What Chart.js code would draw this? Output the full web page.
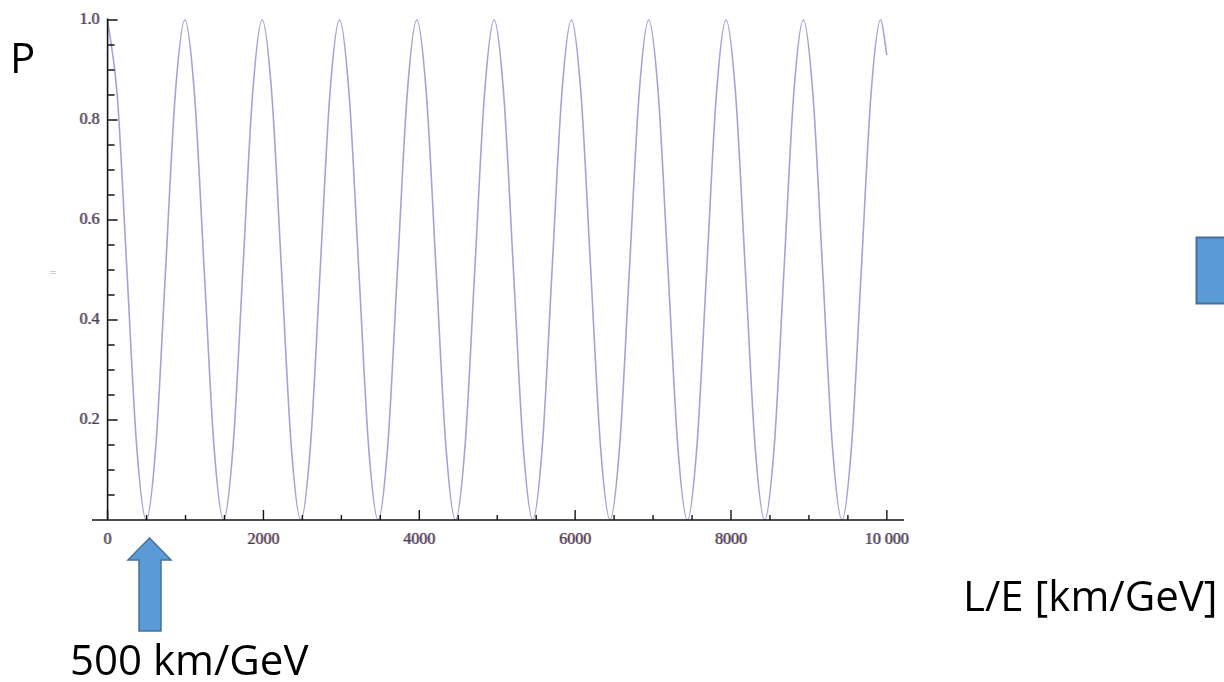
<!DOCTYPE html>
<html>
<head>
<meta charset="utf-8">
<script src="https://cdn.jsdelivr.net/npm/chart.js@4.4.0/dist/chart.umd.min.js"></script>
<style>
html, body { margin: 0; padding: 0; background: #fff; }
#wrap { width: 1224px; height: 682px; position: relative; }
</style>
</head>
<body>
<div id="wrap"><canvas id="chart" width="1224" height="682"></canvas></div>
<script>
// L/E [km/GeV] sample points
var lOverE = [
  0, 124, 248, 372, 496, 620, 744, 868,
  992, 1116, 1240, 1364, 1488, 1612, 1736, 1860,
  1984, 2108, 2232, 2356, 2480, 2604, 2728, 2852,
  2976, 3100, 3224, 3348, 3472, 3596, 3720, 3844,
  3968, 4092, 4216, 4340, 4464, 4588, 4712, 4836,
  4960, 5084, 5208, 5332, 5456, 5580, 5704, 5828,
  5952, 6076, 6200, 6324, 6448, 6572, 6696, 6820,
  6944, 7068, 7192, 7316, 7440, 7564, 7688, 7812,
  7936, 8060, 8184, 8308, 8432, 8556, 8680, 8804,
  8928, 9052, 9176, 9300, 9424, 9548, 9672, 9796,
  9920, 10000
];
// survival probability P
var prob = [
  1, 0.85, 0.5, 0.15, 0, 0.15, 0.5, 0.85,
  1, 0.85, 0.5, 0.15, 0, 0.15, 0.5, 0.85,
  1, 0.85, 0.5, 0.15, 0, 0.15, 0.5, 0.85,
  1, 0.85, 0.5, 0.15, 0, 0.15, 0.5, 0.85,
  1, 0.85, 0.5, 0.15, 0, 0.15, 0.5, 0.85,
  1, 0.85, 0.5, 0.15, 0, 0.15, 0.5, 0.85,
  1, 0.85, 0.5, 0.15, 0, 0.15, 0.5, 0.85,
  1, 0.85, 0.5, 0.15, 0, 0.15, 0.5, 0.85,
  1, 0.85, 0.5, 0.15, 0, 0.15, 0.5, 0.85,
  1, 0.85, 0.5, 0.15, 0, 0.15, 0.5, 0.85,
  1, 0.93
];

var xTicks = [0, 2000, 4000, 6000, 8000, 10000];
var xTickLabels = ['0', '2000', '4000', '6000', '8000', '10 000'];
var xMinor = [500, 1000, 1500, 2500, 3000, 3500, 4500, 5000, 5500, 6500, 7000, 7500, 8500, 9000, 9500];
var yTicks = [0.2, 0.4, 0.6, 0.8, 1.0];
var yTickLabels = ['0.2', '0.4', '0.6', '0.8', '1.0'];
var yMinor = [0.05, 0.1, 0.15, 0.25, 0.3, 0.35, 0.45, 0.5, 0.55, 0.65, 0.7, 0.75, 0.85, 0.9, 0.95];

var points = lOverE.map(function (x, i) { return { x: x, y: prob[i] }; });

// tick labels with a little colour fringe, like the old plot export
function fringeText(ctx, s, x, y) {
  ctx.fillStyle = 'rgba(235,150,50,0.6)';
  ctx.fillText(s, x - 0.9, y);
  ctx.fillStyle = 'rgba(60,90,210,0.6)';
  ctx.fillText(s, x + 0.9, y);
  ctx.fillStyle = 'rgba(60,50,75,0.85)';
  ctx.fillText(s, x, y);
}

var axesPlugin = {
  id: 'axes',
  afterDatasetsDraw: function (chart) {
    var ctx = chart.ctx;
    var xs = chart.scales.x, ys = chart.scales.y;
    var area = chart.chartArea;
    var x0 = xs.getPixelForValue(0);
    var y0 = ys.getPixelForValue(0);
    ctx.save();
    ctx.strokeStyle = '#151515';
    ctx.lineWidth = 1.6;
    ctx.beginPath();
    ctx.moveTo(area.left, y0);
    ctx.lineTo(area.right, y0);
    ctx.moveTo(x0, y0);
    ctx.lineTo(x0, ys.getPixelForValue(1.0) - 1.5);
    ctx.stroke();

    ctx.lineWidth = 1.4;
    ctx.beginPath();
    xTicks.forEach(function (v) {
      var px = xs.getPixelForValue(v);
      ctx.moveTo(px, y0); ctx.lineTo(px, y0 - 10);
    });
    xMinor.forEach(function (v) {
      var px = xs.getPixelForValue(v);
      ctx.moveTo(px, y0); ctx.lineTo(px, y0 - 5);
    });
    yTicks.forEach(function (v) {
      var py = ys.getPixelForValue(v);
      ctx.moveTo(x0, py); ctx.lineTo(x0 + 10, py);
    });
    yMinor.forEach(function (v) {
      var py = ys.getPixelForValue(v);
      ctx.moveTo(x0, py); ctx.lineTo(x0 + 7, py);
    });
    ctx.stroke();

    ctx.font = '16px "Liberation Serif"';
    ctx.textAlign = 'center';
    ctx.textBaseline = 'middle';
    xTicks.forEach(function (v, i) {
      fringeText(ctx, xTickLabels[i], xs.getPixelForValue(v), y0 + 20);
    });
    ctx.textAlign = 'right';
    yTicks.forEach(function (v, i) {
      fringeText(ctx, yTickLabels[i], x0 - 8, ys.getPixelForValue(v));
    });

    // faint leftover mark beside the y axis
    ctx.font = '9px "DejaVu Sans"';
    ctx.textAlign = 'center';
    ctx.fillStyle = '#a0a0a0';
    ctx.fillText('=', 53, 273);
    ctx.restore();
  },
  afterDraw: function (chart) {
    var ctx = chart.ctx;
    ctx.save();
    ctx.fillStyle = '#000';
    ctx.font = '42px "Open Sans"';
    ctx.textBaseline = 'alphabetic';
    ctx.textAlign = 'left';
    ctx.fillText('P', 10, 73);
    ctx.fillText('500 km/GeV', 70, 675);
    ctx.fillText('L/E [km/GeV]', 963, 611);

    // arrow pointing at 500 km/GeV
    ctx.fillStyle = '#5b9bd5';
    ctx.strokeStyle = '#41719c';
    ctx.lineWidth = 1.5;
    ctx.beginPath();
    ctx.moveTo(149.5, 538);
    ctx.lineTo(171, 560);
    ctx.lineTo(161, 560);
    ctx.lineTo(161, 631);
    ctx.lineTo(139, 631);
    ctx.lineTo(139, 560);
    ctx.lineTo(128, 560);
    ctx.closePath();
    ctx.fill();
    ctx.stroke();

    // box cut off at the right edge
    ctx.beginPath();
    ctx.rect(1196.5, 237.5, 40, 66);
    ctx.fill();
    ctx.lineWidth = 2;
    ctx.stroke();
    ctx.restore();
  }
};

new Chart(document.getElementById('chart').getContext('2d'), {
  type: 'line',
  data: {
    datasets: [{
      data: points,
      borderColor: 'rgba(140,140,205,0.8)',
      borderWidth: 1.6,
      pointRadius: 0,
      cubicInterpolationMode: 'monotone',
      fill: false,
      clip: false
    }]
  },
  options: {
    responsive: false,
    animation: false,
    layout: { padding: { left: 92, right: 320, top: 20, bottom: 162 } },
    plugins: { legend: { display: false }, tooltip: { enabled: false } },
    scales: {
      x: { type: 'linear', min: -200, max: 10220, display: false },
      y: { min: 0, max: 1, display: false }
    }
  },
  plugins: [axesPlugin]
});
</script>
</body>
</html>
